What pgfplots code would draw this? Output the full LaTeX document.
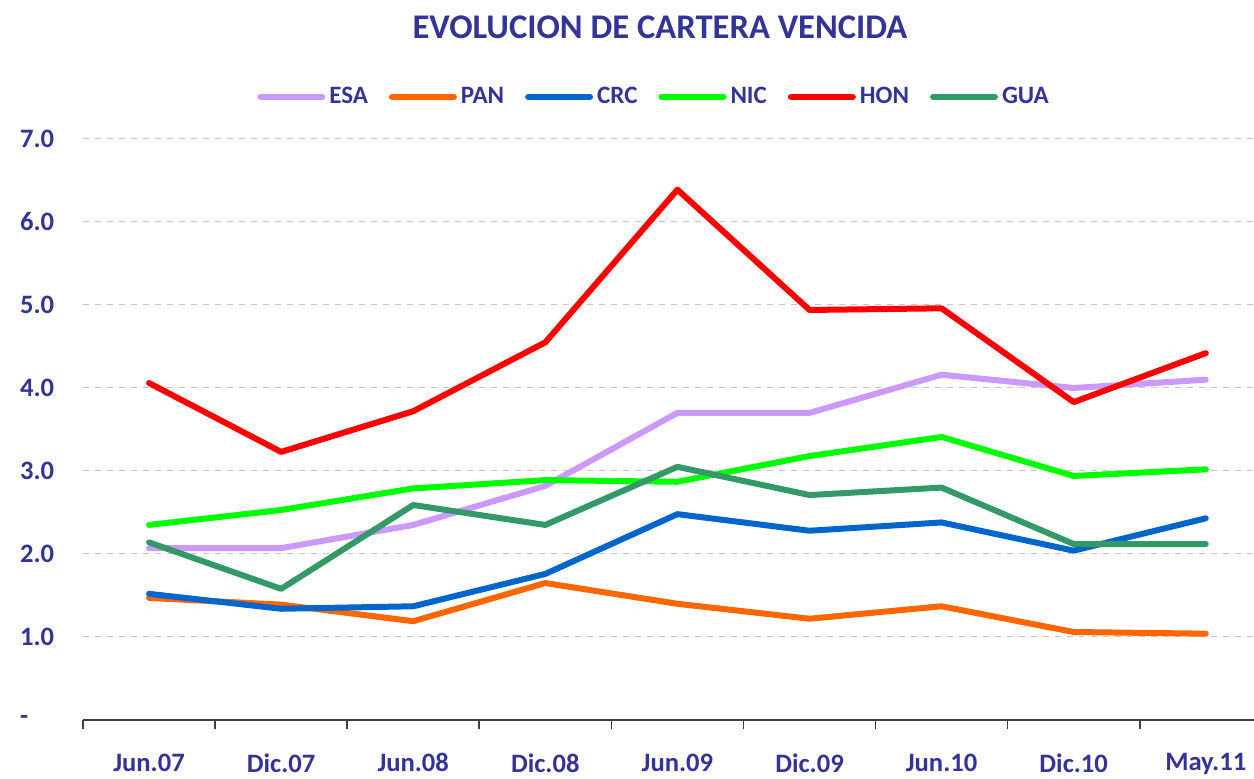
\documentclass[border=0pt]{standalone}
\usepackage{pgfplots}
\pgfplotsset{compat=1.18}
\usepackage{fontspec}
\setmainfont{Carlito}
\definecolor{txt}{HTML}{333399}
\definecolor{cESA}{HTML}{CC99FF}
\definecolor{cPAN}{HTML}{FF6600}
\definecolor{cCRC}{HTML}{0066CC}
\definecolor{cNIC}{HTML}{00FF00}
\definecolor{cHON}{HTML}{FF0000}
\definecolor{cGUA}{HTML}{339966}
\definecolor{axgray}{HTML}{404040}
\begin{document}
\begin{tikzpicture}
\useasboundingbox (-41.5pt,-29.5pt) rectangle (585.5pt,360pt);
\begin{axis}[
  at={(0,0)}, anchor=south west,
  scale only axis, width=585.5pt, height=290.5pt,
  xmin=-0.5, xmax=8.365, ymin=0, ymax=7,
  axis x line*=bottom, axis y line*=left,
  y axis line style={draw=none},
  x axis line style={draw=axgray, line width=0.8pt},
  xtick={0,...,8},
  xticklabels={Jun.07,Dic.07,Jun.08,Dic.08,Jun.09,Dic.09,Jun.10,Dic.10,May.11},
  major x tick style={draw=none},
  minor xtick={-0.5,0.5,...,7.5},
  minor x tick style={draw=axgray, line width=0.8pt},
  minor tick length=4.5pt,
  xtick align=outside,
  ytick={0,...,7},
  yticklabels={-,1.0,2.0,3.0,4.0,5.0,6.0,7.0},
  ytick style={draw=none},
  ymajorgrids,
  grid style={dashed, gray!45, line width=0.5pt},
  ticklabel style={font=\fontsize{13.3}{15}\selectfont\bfseries, text=txt},
  yticklabel style={anchor=west, xshift=-35pt},
  xticklabel style={yshift=-9pt},
  legend columns=6,
  legend style={at={(0.4885,1.0723)}, anchor=center, draw=none, fill=none,
    font=\fontsize{12.5}{14}\selectfont\bfseries, text=txt,
    /tikz/every even column/.append style={column sep=8.5pt}},
  legend image code/.code={\draw[#1, line width=3pt, line cap=round] (0pt,0pt) -- (31pt,0pt);},
  every axis plot/.append style={line width=3pt, line join=round, line cap=round},
]
\addplot[cESA] coordinates {(0,2.07)(1,2.07)(2,2.35)(3,2.82)(4,3.70)(5,3.70)(6,4.16)(7,4.00)(8,4.10)};
\addlegendentry{ESA}
\addplot[cPAN] coordinates {(0,1.47)(1,1.39)(2,1.19)(3,1.65)(4,1.40)(5,1.22)(6,1.37)(7,1.06)(8,1.04)};
\addlegendentry{PAN}
\addplot[cCRC] coordinates {(0,1.52)(1,1.34)(2,1.37)(3,1.76)(4,2.48)(5,2.28)(6,2.38)(7,2.04)(8,2.43)};
\addlegendentry{CRC}
\addplot[cNIC] coordinates {(0,2.35)(1,2.53)(2,2.79)(3,2.89)(4,2.87)(5,3.18)(6,3.41)(7,2.94)(8,3.02)};
\addlegendentry{NIC}
\addplot[cHON] coordinates {(0,4.06)(1,3.23)(2,3.72)(3,4.55)(4,6.39)(5,4.94)(6,4.96)(7,3.83)(8,4.42)};
\addlegendentry{HON}
\addplot[cGUA] coordinates {(0,2.14)(1,1.58)(2,2.59)(3,2.35)(4,3.05)(5,2.71)(6,2.80)(7,2.12)(8,2.12)};
\addlegendentry{GUA}
\end{axis}
\node[text=txt, font=\fontsize{17.3}{20}\selectfont\bfseries] at (288.5pt,346.5pt) {EVOLUCION DE CARTERA VENCIDA};
\end{tikzpicture}
\end{document}
